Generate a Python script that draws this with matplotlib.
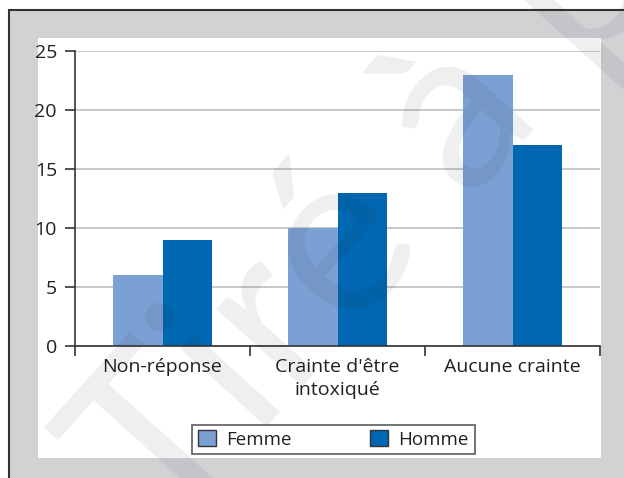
import numpy as np
import matplotlib
matplotlib.use("Agg")
import matplotlib.pyplot as plt
from matplotlib.patches import Rectangle, Patch

# data
categories = ["Non-réponse", "Crainte d'être\nintoxiqué", "Aucune crainte"]
femme = [6, 10, 23]
homme = [9, 13, 17]
series_names = ["Femme", "Homme"]
yticks = [0, 5, 10, 15, 20, 25]

c_femme = "#7BA0D4"
c_homme = "#0067B2"
c_frame = "#D1D2D4"
c_dark = "#333333"
c_text = "#231F20"

plt.rcParams['font.family'] = ['Open Sans', 'DejaVu Sans']

W, H = 624, 478
fig = plt.figure(figsize=(W / 100, H / 100), dpi=100)
fig.patch.set_facecolor("white")

def fx(px):
    return px / W

def fy(py):
    return 1 - py / H

# gray outer frame with dark left/top border
fig.patches.append(Rectangle((fx(9), -0.1), 1.2, fy(10) + 0.1, transform=fig.transFigure,
                             facecolor=c_frame, edgecolor=c_dark, lw=1.5, zorder=0))
# white inner panel
fig.patches.append(Rectangle((fx(38), fy(458)), fx(601) - fx(38), fy(38) - fy(458),
                             transform=fig.transFigure, facecolor="white", edgecolor="none", zorder=0.5))

ax = fig.add_axes([fx(75), fy(346), fx(600) - fx(75), fy(51) - fy(346)])
ax.set_facecolor("none")
ax.set_zorder(2)

x = np.arange(len(categories))
w = 0.2857
ax.bar(x - w / 2, femme, w, color=c_femme, zorder=2)
ax.bar(x + w / 2, homme, w, color=c_homme, zorder=2)

ax.set_xlim(-0.5, len(categories) - 0.5)
ax.set_ylim(0, 25)
ax.set_yticks(yticks)
ax.yaxis.grid(True, color="#BFBFBF", lw=1.2, zorder=0)
ax.set_axisbelow(True)

ax.set_xticks(x)
ax.set_xticklabels(categories, fontsize=14, color=c_text, linespacing=1.3)
ax.tick_params(axis="x", which="major", length=0, pad=9)
ax.set_xticks(np.arange(len(categories) + 1) - 0.5, minor=True)
ax.tick_params(axis="x", which="minor", length=7, width=1.2, color=c_dark, direction="out")
ax.tick_params(axis="y", length=7, width=1.2, color=c_dark, labelsize=14,
               labelcolor=c_text, pad=6)

for s in ["top", "right"]:
    ax.spines[s].set_visible(False)
for s in ["left", "bottom"]:
    ax.spines[s].set_color(c_dark)
    ax.spines[s].set_linewidth(1.2)

handles = [Patch(facecolor=c_femme, edgecolor=c_dark, lw=1),
           Patch(facecolor=c_homme, edgecolor=c_dark, lw=1)]
leg = fig.legend(handles, series_names, loc="center", bbox_to_anchor=(fx(333.5), fy(439.5)),
                 ncol=2, fontsize=13.5, frameon=True, fancybox=False, edgecolor=c_dark,
                 handlelength=0.95, handleheight=0.95, handletextpad=0.55,
                 columnspacing=4.2, borderpad=0.3, labelcolor=c_text)
leg.get_frame().set_linewidth(1.2)

# watermark
fig.text(fx(165), fy(540), "Tiré à part", fontsize=165, fontweight="normal",
         color="#1a1d26", alpha=0.07, rotation=48, rotation_mode="anchor",
         ha="left", va="baseline", zorder=10, family="Lato")

fig.savefig("out.png", dpi=100)
